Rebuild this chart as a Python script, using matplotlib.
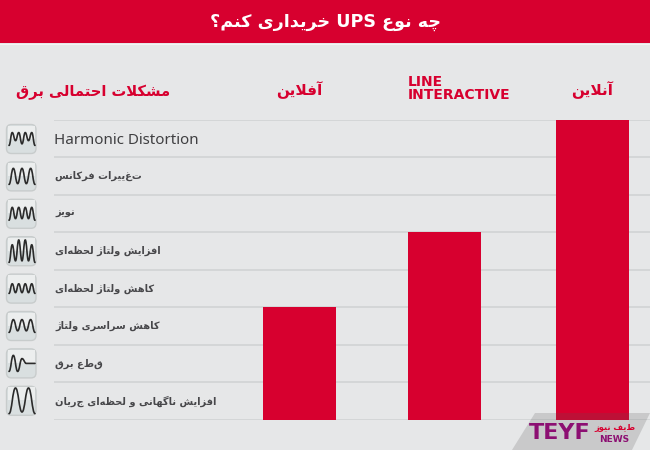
import matplotlib
matplotlib.use('agg')
import matplotlib.pyplot as plt
from matplotlib.patches import FancyBboxPatch, PathPatch, Polygon, Rectangle
from matplotlib.path import Path
from matplotlib.transforms import ScaledTranslation

# chart data
title = "چه نوع UPS خریداری کنم؟"
problems_title = "مشکلات احتمالی برق"
ups_types = ["آفلاین", "LINE\nINTERACTIVE", "آنلاین"]
problems_covered = [3, 5, 8]
problem_names = [
    "Harmonic Distortion",
    "تغییرات فرکانس",
    "نویز",
    "افزایش ولتاژ لحظه‌ای",
    "کاهش ولتاژ لحظه‌ای",
    "کاهش سراسری ولتاژ",
    "قطع برق",
    "افزایش ناگهانی و لحظه‌ای جریان",
]
# turning points of the little wave in each icon, 0 is the low end of the icon, 10 the high end
icon_waves = [
    [1, 9, 4, 9, 2, 9, 4, 9, 1],
    [0, 10, 0.5, 10, 0.5, 10, 0],
    [1, 9, 2, 9, 2, 9, 2, 9, 1],
    [-2, 9, -1, 12, -1, 12, -1, 9, -2],
    [2, 8, 2.5, 8, 2.5, 8, 2.5, 8, 2],
    [1, 9, 2, 9, 2, 9, 1],
    [0, 10, 0, 8, 5, 5, 5],
    [-3, 13, -2, 13, -3],
]

RED = "#d7002f"
BACK = "#e6e7e8"
GRID = "#d3d5d6"
PURPLE = "#8c0f72"

# arabic letters as (isolated, final, initial, medial), two forms means it never joins to the left
FORMS = {
    "ا": (0xFE8D, 0xFE8E), "آ": (0xFE81, 0xFE82), "د": (0xFEA9, 0xFEAA), "ر": (0xFEAD, 0xFEAE),
    "ز": (0xFEAF, 0xFEB0), "ژ": (0xFB8A, 0xFB8B), "و": (0xFEED, 0xFEEE),
    "ب": (0xFE8F, 0xFE90, 0xFE91, 0xFE92), "ت": (0xFE95, 0xFE96, 0xFE97, 0xFE98),
    "چ": (0xFB7A, 0xFB7B, 0xFB7C, 0xFB7D), "ح": (0xFEA1, 0xFEA2, 0xFEA3, 0xFEA4),
    "خ": (0xFEA5, 0xFEA6, 0xFEA7, 0xFEA8), "س": (0xFEB1, 0xFEB2, 0xFEB3, 0xFEB4),
    "ش": (0xFEB5, 0xFEB6, 0xFEB7, 0xFEB8), "ظ": (0xFEC5, 0xFEC6, 0xFEC7, 0xFEC8),
    "ع": (0xFEC9, 0xFECA, 0xFECB, 0xFECC), "ف": (0xFED1, 0xFED2, 0xFED3, 0xFED4),
    "ق": (0xFED5, 0xFED6, 0xFED7, 0xFED8), "ک": (0xFB8E, 0xFB8F, 0xFB90, 0xFB91),
    "گ": (0xFB92, 0xFB93, 0xFB94, 0xFB95), "ل": (0xFEDD, 0xFEDE, 0xFEDF, 0xFEE0),
    "م": (0xFEE1, 0xFEE2, 0xFEE3, 0xFEE4), "ن": (0xFEE5, 0xFEE6, 0xFEE7, 0xFEE8),
    "ه": (0xFEE9, 0xFEEA, 0xFEEB, 0xFEEC), "ی": (0xFBFC, 0xFBFD, 0xFBFE, 0xFBFF),
}

def persian(text):
    # matplotlib does no shaping or right to left, so do it here
    out = []
    i = 0
    while i < len(text):
        c = text[i]
        if c not in FORMS:
            out.append(c)
            i += 1
            continue
        prev = text[i - 1] if i > 0 else ""
        joined = prev in FORMS and len(FORMS[prev]) == 4
        nxt = text[i + 1] if i + 1 < len(text) else ""
        if c == "ل" and nxt == "ا":
            out.append(chr(0xFEFC if joined else 0xFEFB))
            i += 2
            continue
        forms = FORMS[c]
        if len(forms) == 2:
            out.append(chr(forms[1 if joined else 0]))
        else:
            goes_on = nxt in FORMS
            if joined:
                out.append(chr(forms[3 if goes_on else 1]))
            else:
                out.append(chr(forms[2 if goes_on else 0]))
        i += 1
    # reverse, but keep latin words reading left to right
    out = "".join(c for c in out if c != "\u200c")
    result = []
    word = ""
    for c in out[::-1]:
        if c.isascii() and c != " ":
            word = c + word
        else:
            if word:
                result.append(word)
                word = ""
            result.append(c)
    if word:
        result.append(word)
    return "".join(result)

def wave_path(points, x0, x1, ybottom, ytop):
    # smooth curve through the turning points, flat at each of them
    step = (x1 - x0) / (len(points) - 1)
    ys = [ybottom + (ytop - ybottom) * p / 10 for p in points]
    verts = [(x0, ys[0])]
    codes = [Path.MOVETO]
    for n in range(1, len(ys)):
        xa = x0 + (n - 1) * step
        xb = x0 + n * step
        verts += [(xa + step * 0.45, ys[n - 1]), (xb - step * 0.45, ys[n]), (xb, ys[n])]
        codes += [Path.CURVE4, Path.CURVE4, Path.CURVE4]
    return Path(verts, codes)

fig = plt.figure(figsize=(6.5, 4.5), dpi=100, facecolor=BACK)

# axes in pixels for the things around the chart
back = fig.add_axes([0, 0, 1, 1])
back.set_xlim(0, 650)
back.set_ylim(450, 0)
back.axis("off")
back.add_patch(Rectangle((0, 0), 650, 43, color=RED, lw=0))
back.plot([0, 650], [43.5, 43.5], color="#f4f4f4", lw=0.8)
back.text(325, 22, persian(title), color="white", fontsize=12.6, fontweight="bold",
          ha="center", va="center", family="DejaVu Sans")
back.text(93.5, 92, persian(problems_title), color=RED, fontsize=10.6, fontweight="bold",
          ha="center", va="center", family="DejaVu Sans")

# the chart itself, x in categories and y in number of problems
ax = fig.add_axes([54 / 650, (450 - 419.5) / 450, 596 / 650, 300 / 450])
ax.patch.set_alpha(0)
bar_x = [0, 1, 2.02]
ax.bar(bar_x, problems_covered, width=73 / 145, color=RED, zorder=3)
ax.set_xlim((54 - 299.5) / 145, (650 - 299.5) / 145)
ax.set_ylim(0, 8)
ax.set_yticks(range(9))
ax.yaxis.grid(True, color=GRID, lw=1.3, zorder=1)
ax.set_axisbelow(True)
ax.tick_params(left=False, labelleft=False, top=False, bottom=False, labelbottom=False,
               labeltop=True, pad=11)
ax.set_xticks(bar_x)
ax.set_xticklabels([t if t.isascii() else persian(t) for t in ups_types],
                   color=RED, fontweight="bold", fontsize=11, linespacing=0.95,
                   family="DejaVu Sans")
# the two line label starts at the left edge of its bar and sits lower
line_tick = ax.xaxis.get_major_ticks()[1]
line_tick.set_pad(9)
line_label = line_tick.label2
line_label.set_fontsize(10)
line_label.set_ha("left")
line_label.set_multialignment("left")
line_label.set_transform(line_label.get_transform() + ScaledTranslation(-0.365, 0, fig.dpi_scale_trans))
for spine in ax.spines.values():
    spine.set_visible(False)

for row, name in enumerate(problem_names):
    if name.isascii():
        back.text(54, 141, name, color="#3f3f41", fontsize=10.9, family="Noto Sans", va="center")
    else:
        back.text(55, 138.5 + row * 37.5, persian(name), color="#47474a", fontsize=7.1, fontweight="bold",
                  va="center", family="DejaVu Sans")

    # icon with its wave
    cy = 139 + row * 37.4
    back.add_patch(FancyBboxPatch((6.5, cy - 14.5), 29.5, 29, boxstyle="round,pad=0,rounding_size=5",
                                  fc="#d9dfe0", ec="#c8cccc", lw=1.0, zorder=2))
    back.add_patch(Rectangle((8, cy - 13.5), 26.5, 13, fc="#eceeee", ec="none", zorder=2.1))
    back.add_patch(PathPatch(wave_path(icon_waves[row], 9, 35, cy + 8, cy - 8),
                             fc="none", ec="#2b2b2b", lw=1.2, capstyle="round", zorder=3))

# logo over the corner
front = fig.add_axes([0, 0, 1, 1])
front.set_xlim(0, 650)
front.set_ylim(450, 0)
front.axis("off")
front.add_patch(Polygon([(535, 413), (650, 413), (632, 450), (512, 450)], fc="#555555", alpha=0.2, ec="none"))
front.text(559.5, 433, "TEYF", color=PURPLE, fontsize=16, fontweight="bold", ha="center", va="center",
           family="DejaVu Sans")
front.text(615, 428, persian("طیف نیوز"), color=RED, fontsize=6, fontweight="bold", ha="center", va="center",
           family="DejaVu Sans")
front.text(614, 439, "NEWS", color=PURPLE, fontsize=6.5, fontweight="bold", ha="center", va="center",
           family="DejaVu Sans")

fig.savefig("out.png", dpi=100, facecolor=BACK)
plt.close(fig)
